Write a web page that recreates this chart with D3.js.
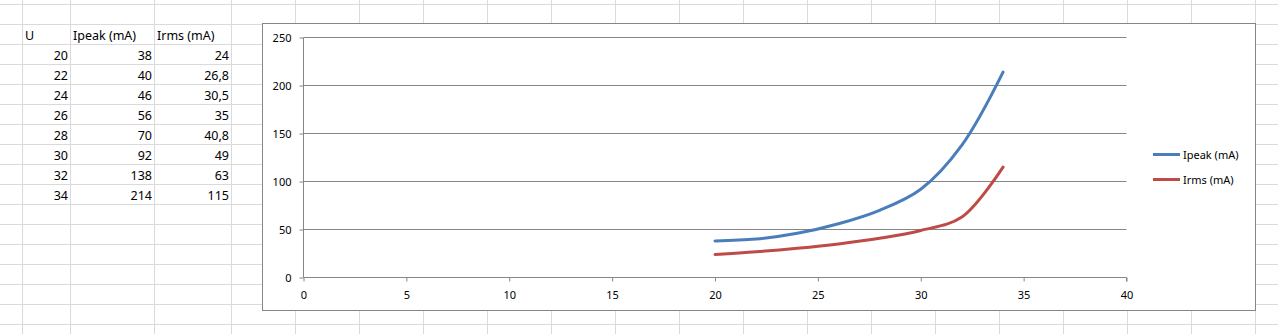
<!DOCTYPE html>
<html>
<head>
<meta charset="utf-8">
<script src="https://cdn.jsdelivr.net/npm/d3@7"></script>
<style>
  body { margin: 0; background: #fff; }
  svg { display: block; }
</style>
</head>
<body>
<script>
// data
const voltage = [20, 22, 24, 26, 28, 30, 32, 34];
const ipeak = [38, 40, 46, 56, 70, 92, 138, 214];
const irms = [24, 26.8, 30.5, 35, 40.8, 49, 63, 115];
const headers = ["U", "Ipeak (mA)", "Irms (mA)"];
const seriesNames = ["Ipeak (mA)", "Irms (mA)"];
const xTicks = [0, 5, 10, 15, 20, 25, 30, 35, 40];
const yTicks = [0, 50, 100, 150, 200, 250];

const width = 1278;
const height = 334;
const colors = ["#4a7ebb", "#be4b48"];
const gridColor = "#dadada";
const axisColor = "#868686";

const svg = d3.select("body").append("svg")
   .attr("width", width)
   .attr("height", height);

// spreadsheet grid
const colEdges = [22.5, 70.5, 154.5, 231.5];
for (let x = 295.5; x < width; x += 64) colEdges.push(x);
const rowEdges = [];
for (let y = 4.5; y < height; y += 20) rowEdges.push(y);

const grid = svg.append("g").attr("stroke", gridColor).attr("stroke-width", 1);
grid.selectAll("line.col")
   .data(colEdges)
   .enter()
   .append("line")
   .attr("x1", d => d).attr("x2", d => d)
   .attr("y1", 0).attr("y2", height);
grid.selectAll("line.row")
   .data(rowEdges)
   .enter()
   .append("line")
   .attr("x1", 0).attr("x2", width)
   .attr("y1", d => d).attr("y2", d => d);

// cell text
const cells = svg.append("g")
   .style("font-family", "'Noto Sans', sans-serif")
   .style("font-size", "12.5px")
   .attr("fill", "#000");

cells.selectAll("text.hdr")
   .data(headers)
   .enter()
   .append("text")
   .attr("x", (d, i) => colEdges[i] + 2.5)
   .attr("y", rowEdges[1] + 15.5)
   .text(d => d);

const tableRows = voltage.map((u, i) => [u, ipeak[i], irms[i]]);
tableRows.forEach((row, r) => {
   cells.selectAll(null)
      .data(row)
      .enter()
      .append("text")
      .attr("text-anchor", "end")
      .attr("x", (d, i) => colEdges[i + 1] - 2.5)
      .attr("y", rowEdges[r + 2] + 15.5)
      .text(d => String(d).replace(".", ","));
});

// chart frame
const frame = { x: 262.5, y: 23.5, w: 993, h: 287 };
svg.append("rect")
   .attr("x", frame.x).attr("y", frame.y)
   .attr("width", frame.w).attr("height", frame.h)
   .attr("fill", "#fff")
   .attr("stroke", axisColor);

const plot = { left: 303.5, right: 1126.5, top: 37.5, bottom: 277.5 };

const x = d3.scaleLinear().domain([0, 40]).range([plot.left, plot.right]);
const y = d3.scaleLinear().domain([0, 250]).range([plot.bottom, plot.top]);

const chart = svg.append("g")
   .style("font-family", "'Noto Sans', sans-serif")
   .style("font-size", "11px");

// gridlines
chart.append("g")
   .selectAll("line")
   .data(yTicks.slice(1))
   .enter()
   .append("line")
   .attr("x1", plot.left).attr("x2", plot.right)
   .attr("y1", d => y(d)).attr("y2", d => y(d))
   .attr("stroke", axisColor);

// axes
const yAxis = d3.axisLeft(y).tickValues(yTicks).tickSize(4).tickPadding(8);
const yG = chart.append("g")
   .attr("transform", `translate(${plot.left},0)`)
   .call(yAxis);

const xAxis = d3.axisBottom(x).tickValues(xTicks).tickSize(4).tickPadding(10);
const xG = chart.append("g")
   .attr("transform", `translate(0,${plot.bottom})`)
   .call(xAxis);

[xG, yG].forEach(g => {
   g.select(".domain").attr("stroke", axisColor);
   g.selectAll(".tick line").attr("stroke", axisColor);
   g.selectAll(".tick text").attr("fill", "#000").style("font-size", "11px")
      .style("font-family", "'Noto Sans', sans-serif");
});
yG.select(".domain").attr("d", `M0,${plot.top}V${plot.bottom}`);
xG.select(".domain").attr("d", `M${plot.left},0H${plot.right}V4`);

// series
const line = d3.line()
   .x(d => x(d[0]))
   .y(d => y(d[1]))
   .curve(d3.curveCatmullRom.alpha(0.5));

[ipeak, irms].forEach((vals, i) => {
   chart.append("path")
      .datum(voltage.map((u, j) => [u, vals[j]]))
      .attr("fill", "none")
      .attr("stroke", colors[i])
      .attr("stroke-width", 3)
      .attr("stroke-linecap", "round")
      .attr("d", line);
});

// legend
const legend = chart.append("g").attr("transform", "translate(1153,154.5)");
const items = legend.selectAll("g")
   .data(seriesNames)
   .enter()
   .append("g")
   .attr("transform", (d, i) => `translate(0,${i * 25})`);
items.append("line")
   .attr("x1", 0).attr("x2", 27)
   .attr("stroke", (d, i) => colors[i])
   .attr("stroke-width", 3);
items.append("text")
   .attr("x", 30)
   .attr("y", 4.5)
   .attr("fill", "#000")
   .text(d => d);
</script>
</body>
</html>
